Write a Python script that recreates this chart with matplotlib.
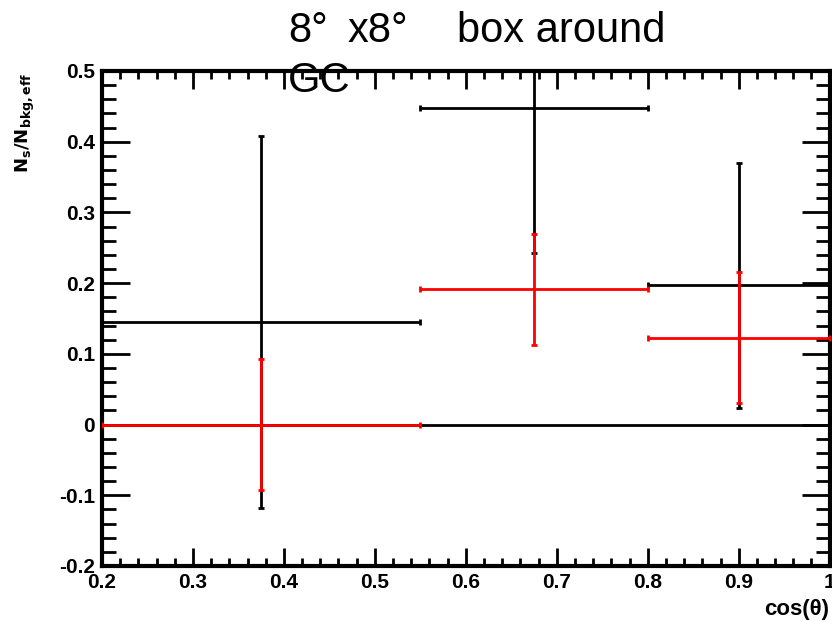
import numpy as np
import matplotlib
matplotlib.use("Agg")
import matplotlib.pyplot as plt
from matplotlib.ticker import MultipleLocator, FixedLocator

# bin edges in cos(theta)
bin_edges = [0.2, 0.55, 0.8, 1.0]

# black series (values and symmetric errors)
black_vals = [0.145, 0.447, 0.197]
black_errs = [0.263, 0.204, 0.173]

# red series
red_vals = [0.0, 0.191, 0.123]
red_errs = [0.092, 0.079, 0.093]

x_ticks = [0.2, 0.3, 0.4, 0.5, 0.6, 0.7, 0.8, 0.9, 1.0]
x_labels = ["0.2", "0.3", "0.4", "0.5", "0.6", "0.7", "0.8", "0.9", "1"]
y_ticks = [-0.2, -0.1, 0.0, 0.1, 0.2, 0.3, 0.4, 0.5]
y_labels = ["-0.2", "-0.1", "0", "0.1", "0.2", "0.3", "0.4", "0.5"]

plt.rcParams["font.family"] = ["Liberation Sans", "DejaVu Sans"]

edges = np.array(bin_edges)
centers = (edges[:-1] + edges[1:]) / 2
half = (edges[1:] - edges[:-1]) / 2

W, H = 832, 621
fig = plt.figure(figsize=(W / 100, H / 100), dpi=100)
ax = fig.add_axes([0.1226, 0.0886, 0.8746, 0.7971])

ax.axhline(0, color="black", lw=2, zorder=1)
ax.errorbar(centers, black_vals, xerr=half, yerr=black_errs, fmt="none",
            ecolor="black", elinewidth=2, capsize=2, capthick=2, zorder=2)
ax.errorbar(centers, red_vals, xerr=half, yerr=red_errs, fmt="none",
            ecolor="#ff0000", elinewidth=2, capsize=2, capthick=2, zorder=3)

ax.set_xlim(0.2, 1.0)
ax.set_ylim(-0.2, 0.5)

ax.xaxis.set_major_locator(FixedLocator(x_ticks))
ax.set_xticklabels(x_labels)
ax.yaxis.set_major_locator(FixedLocator(y_ticks))
ax.set_yticklabels(y_labels)
ax.xaxis.set_minor_locator(MultipleLocator(0.02))
ax.yaxis.set_minor_locator(MultipleLocator(0.02))

ax.tick_params(which="both", direction="in", top=True, right=True, width=2,
               color="black")
ax.tick_params(axis="x", which="major", length=13, pad=5)
ax.tick_params(axis="x", which="minor", length=6)
ax.tick_params(axis="y", which="major", length=20, pad=5)
ax.tick_params(axis="y", which="minor", length=10)
for lab in ax.get_xticklabels() + ax.get_yticklabels():
    lab.set_fontweight("bold")
    lab.set_fontsize(15)

for sp in ax.spines.values():
    sp.set_linewidth(3)

fig.text(829 / W, 0.002, "cos(\u03b8)", ha="right", va="bottom",
         fontsize=16, fontweight="bold")
fig.text(0.031, 1 - 73 / H, r"$\mathbf{N_{s}/N_{bkg,eff}}$", rotation=90,
         ha="center", va="top", fontsize=13)

# title, split in pieces as in the original layout
fig.text(288 / W, 1 - 42 / H, "8\u00b0", fontsize=30, va="baseline")
fig.text(348 / W, 1 - 42 / H, "x8\u00b0", fontsize=30, va="baseline")
fig.text(457 / W, 1 - 42 / H, "box around", fontsize=30, va="baseline")
fig.text(288 / W, 1 - 92 / H, "GC", fontsize=30, va="baseline", zorder=5)

fig.savefig("out.png", dpi=100)
